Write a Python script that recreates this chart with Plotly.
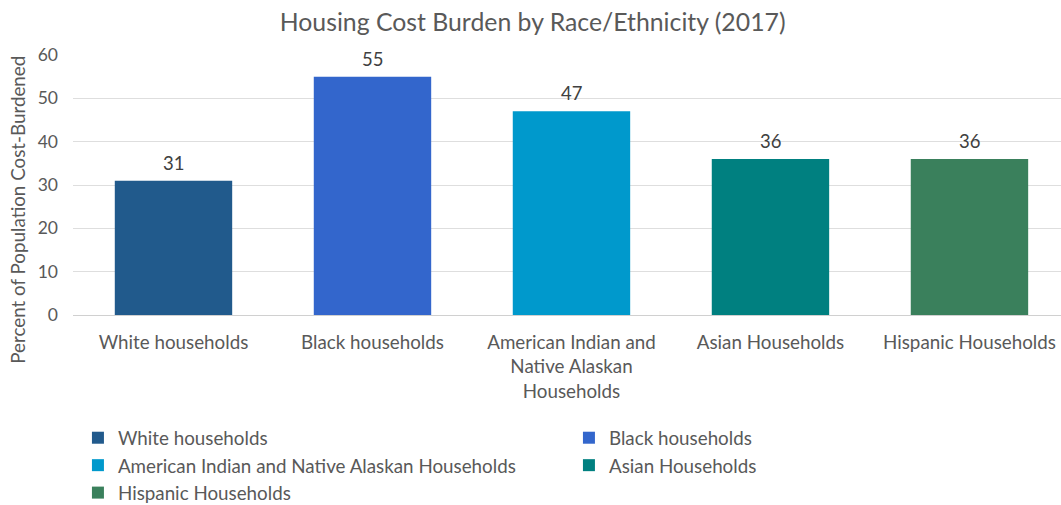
import plotly.graph_objects as go

categories = ["White households", "Black households",
              "American Indian and Native Alaskan Households",
              "Asian Households", "Hispanic Households"]
tick_labels = ["White households", "Black households",
               "American Indian and<br>Native Alaskan<br>Households",
               "Asian Households", "Hispanic Households"]
values = [31, 55, 47, 36, 36]
colors = ["#215A8C", "#3366CC", "#0099CC", "#008080", "#3A805C"]

FONT = "Lato"
GRAY = "#595959"

fig = go.Figure()
for i, (cat, val, col) in enumerate(zip(categories, values, colors)):
    fig.add_trace(go.Bar(
        x=[i], y=[val], name=cat,
        marker=dict(color=col, line=dict(width=0)),
        width=0.59,
    ))
    fig.add_annotation(x=i, y=val, xref="x", yref="y", text=str(val),
                       showarrow=False, yanchor="middle", yshift=18,
                       font=dict(family=FONT, size=18.5, color="#404040"))

fig.add_annotation(x=-0.0557, y=0.405, xref="paper", yref="paper",
                   text="Percent of Population Cost-Burdened", textangle=-90,
                   showarrow=False, xanchor="center", yanchor="middle",
                   font=dict(family=FONT, size=18.8, color=GRAY))

fig.update_layout(
    width=1061, height=505,
    paper_bgcolor="white", plot_bgcolor="white",
    margin=dict(l=73, r=0, t=55, b=190, autoexpand=False),
    title=dict(text="Housing Cost Burden by Race/Ethnicity (2017)",
               x=0.502, xanchor="center", y=0.956, yanchor="middle",
               font=dict(family=FONT, size=24.8, color=GRAY)),
    font=dict(family=FONT, color=GRAY),
    barmode="overlay",
    showlegend=True,
    legend=dict(orientation="h", x=0.005, xanchor="left", y=-0.40, yanchor="top",
                entrywidth=446, entrywidthmode="pixels",
                font=dict(family=FONT, size=18.8, color=GRAY),
                traceorder="normal", itemwidth=30),
    xaxis=dict(tickmode="array", tickvals=list(range(5)), ticktext=tick_labels,
               range=[-0.505, 4.46], showgrid=False, zeroline=False,
               showline=False, ticks="", ticklabelstandoff=14,
               tickfont=dict(family=FONT, size=18.8, color=GRAY)),
    yaxis=dict(range=[0, 60], dtick=10, showgrid=True, gridcolor="#DEDEDE",
               gridwidth=1, zeroline=True, zerolinecolor="#D0D0D0", zerolinewidth=1,
               showline=False, ticks="", ticklabelstandoff=14,
               tickfont=dict(family=FONT, size=17.5, color=GRAY)),
)

fig.write_html("out.html", config={"displayModeBar": False},
               post_script="document.body.style.margin='0';document.body.style.overflow='hidden';")
